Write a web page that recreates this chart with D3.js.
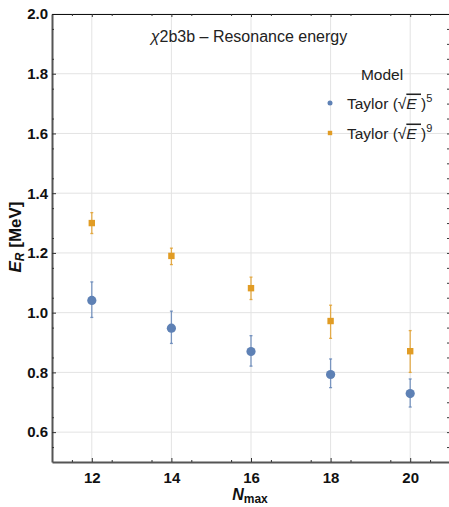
<!DOCTYPE html>
<html>
<head>
  <meta charset="utf-8">
  <title>chi2b3b - Resonance energy</title>
  <script src="https://cdn.jsdelivr.net/npm/d3@7"></script>
  <style>
    body { margin: 0; background: #fff; }
    text { font-family: "Liberation Sans", Arial, sans-serif; }
  </style>
</head>
<body>
<script>
  const nmax = [12, 14, 16, 18, 20]
  const taylor5 = [1.041, 0.948, 0.870, 0.793, 0.729]
  const taylor5Lo = [0.984, 0.897, 0.821, 0.749, 0.684]
  const taylor5Hi = [1.103, 1.005, 0.923, 0.845, 0.778]
  const taylor9 = [1.300, 1.190, 1.082, 0.972, 0.871]
  const taylor9Lo = [1.265, 1.161, 1.044, 0.914, 0.800]
  const taylor9Hi = [1.335, 1.216, 1.119, 1.025, 0.940]
  const xTicks = [12, 14, 16, 18, 20]
  const yTicks = [0.6, 0.8, 1.0, 1.2, 1.4, 1.6, 1.8, 2.0]

  const width = 449, height = 507
  const margin = { left: 52, right: 0, top: 14, bottom: 45 }
  const blue = '#5e81b5', orange = '#e19c24'

  const svg = d3.select('body').append('svg')
    .attr('width', width)
    .attr('height', height)

  const x = d3.scaleLinear().domain([11, 21]).range([margin.left, width - margin.right + 1])
  const y = d3.scaleLinear().domain([0.5, 2.0]).range([height - margin.bottom, margin.top])

  // grid
  svg.append('g').selectAll('line').data(xTicks).enter().append('line')
    .attr('x1', d => x(d)).attr('x2', d => x(d))
    .attr('y1', y(0.5)).attr('y2', y(2.0))
    .attr('stroke', '#e3e3e3').attr('stroke-width', 1)
  svg.append('g').selectAll('line').data(yTicks).enter().append('line')
    .attr('x1', x(11)).attr('x2', width)
    .attr('y1', d => y(d)).attr('y2', d => y(d))
    .attr('stroke', '#e3e3e3').attr('stroke-width', 1)

  // axes
  const yAxis = svg.append('g')
    .attr('transform', `translate(${margin.left},0)`)
    .call(d3.axisLeft(y).tickValues(yTicks).tickFormat(d3.format('.1f')).tickSizeInner(-4).tickSizeOuter(0).tickPadding(4))
  const yMinor = svg.append('g')
    .attr('transform', `translate(${margin.left},0)`)
    .call(d3.axisLeft(y).tickValues(d3.range(0.55, 2.0, 0.1)).tickSizeInner(-2).tickSizeOuter(0).tickFormat(''))
  const xAxis = svg.append('g')
    .attr('transform', `translate(0,${y(0.5)})`)
    .call(d3.axisBottom(x).tickValues(xTicks).tickSizeInner(-4).tickSizeOuter(0).tickPadding(10))
  const xMinor = svg.append('g')
    .attr('transform', `translate(0,${y(0.5)})`)
    .call(d3.axisBottom(x).tickValues(d3.range(11.5, 21, 1)).tickSizeInner(-2).tickSizeOuter(0).tickFormat(''))
  // top / right ticks
  const xTop = svg.append('g')
    .attr('transform', `translate(0,${y(2.0)})`)
    .call(d3.axisTop(x).tickValues(xTicks).tickSizeInner(-3).tickSizeOuter(0).tickFormat(''))
  svg.append('g')
    .attr('transform', `translate(0,${y(2.0)})`)
    .call(d3.axisTop(x).tickValues(d3.range(11.5, 21, 1)).tickSizeInner(-2).tickSizeOuter(0).tickFormat(''))
    .select('.domain').remove()
  const yRight = svg.append('g')
    .attr('transform', `translate(${width},0)`)
    .call(d3.axisRight(y).tickValues(d3.range(0.55, 2.0, 0.05)).tickSizeInner(-2).tickSizeOuter(0).tickFormat(''))
  yRight.select('.domain').remove()

  svg.selectAll('.tick line').attr('stroke', '#333')
  yAxis.select('.domain').attr('stroke', '#555').attr('stroke-width', 2)
  yMinor.select('.domain').remove()
  xAxis.select('.domain').attr('stroke', '#555').attr('stroke-width', 2)
  xMinor.select('.domain').remove()
  xTop.select('.domain').attr('stroke', '#111').attr('stroke-width', 1.2)

  svg.selectAll('.tick text')
    .attr('font-size', 15).attr('font-weight', 'bold').attr('fill', '#111')

  // error bars and markers
  function series(vals, lo, hi, color, shape) {
    const g = svg.append('g')
    g.selectAll('line.bar').data(nmax).enter().append('line')
      .attr('x1', d => x(d)).attr('x2', d => x(d))
      .attr('y1', (d, i) => y(lo[i])).attr('y2', (d, i) => y(hi[i]))
      .attr('stroke', color).attr('stroke-opacity', 0.8).attr('stroke-width', 1.3)
    ;[lo, hi].forEach(arr => {
      g.selectAll(null).data(nmax).enter().append('line')
        .attr('x1', d => x(d) - 1.5).attr('x2', d => x(d) + 1.5)
        .attr('y1', (d, i) => y(arr[i])).attr('y2', (d, i) => y(arr[i]))
        .attr('stroke', color).attr('stroke-opacity', 0.8).attr('stroke-width', 1.3)
    })
    if (shape === 'circle') {
      g.selectAll('circle').data(nmax).enter().append('circle')
        .attr('cx', d => x(d)).attr('cy', (d, i) => y(vals[i]))
        .attr('r', 4.6).attr('fill', color)
    } else {
      g.selectAll('rect').data(nmax).enter().append('rect')
        .attr('x', d => x(d) - 3.2).attr('y', (d, i) => y(vals[i]) - 3.2)
        .attr('width', 6.4).attr('height', 6.4).attr('fill', color)
    }
  }
  series(taylor5, taylor5Lo, taylor5Hi, blue, 'circle')
  series(taylor9, taylor9Lo, taylor9Hi, orange, 'square')

  // title
  const title = svg.append('text')
    .attr('x', 249).attr('y', 42)
    .attr('text-anchor', 'middle').attr('font-size', 16).attr('fill', '#222')
  title.append('tspan').attr('font-style', 'italic').text('χ')
  title.append('tspan').text('2b3b – Resonance energy')

  // legend
  svg.append('text').attr('x', 382).attr('y', 80)
    .attr('text-anchor', 'middle').attr('font-size', 15.5).attr('fill', '#222').text('Model')
  const legend = [
    { color: blue, shape: 'circle', sup: '5', yy: 103 },
    { color: orange, shape: 'square', sup: '9', yy: 133 }
  ]
  legend.forEach(l => {
    if (l.shape === 'circle') {
      svg.append('circle').attr('cx', 330).attr('cy', l.yy).attr('r', 2.5).attr('fill', l.color)
    } else {
      svg.append('rect').attr('x', 327.8).attr('y', l.yy - 2.2).attr('width', 4.4).attr('height', 4.4).attr('fill', l.color)
    }
    const t = svg.append('text').attr('x', 347).attr('y', l.yy + 5.5)
      .attr('font-size', 15.5).attr('fill', '#222')
    t.append('tspan').text('Taylor (')
    t.append('tspan').text('√')
    t.append('tspan').attr('font-style', 'italic').attr('text-decoration', 'overline').text('E ')
    t.append('tspan').text(')')
    t.append('tspan').attr('font-size', 11).attr('dy', -7).text(l.sup)
  })

  // axis labels
  const yl = svg.append('text')
    .attr('transform', 'translate(21,237) rotate(-90)')
    .attr('text-anchor', 'middle').attr('font-size', 17).attr('font-weight', 'bold').attr('fill', '#111')
  yl.append('tspan').attr('font-style', 'italic').text('E')
  yl.append('tspan').attr('font-style', 'italic').attr('font-size', 12).attr('dy', 3).text('R')
  yl.append('tspan').attr('dy', -3).text(' [MeV]')

  const xl = svg.append('text')
    .attr('x', 250).attr('y', 500)
    .attr('text-anchor', 'middle').attr('font-size', 16).attr('font-weight', 'bold').attr('fill', '#111')
  xl.append('tspan').attr('font-style', 'italic').text('N')
  xl.append('tspan').attr('font-size', 12).attr('dy', 3).text('max')
</script>
</body>
</html>
